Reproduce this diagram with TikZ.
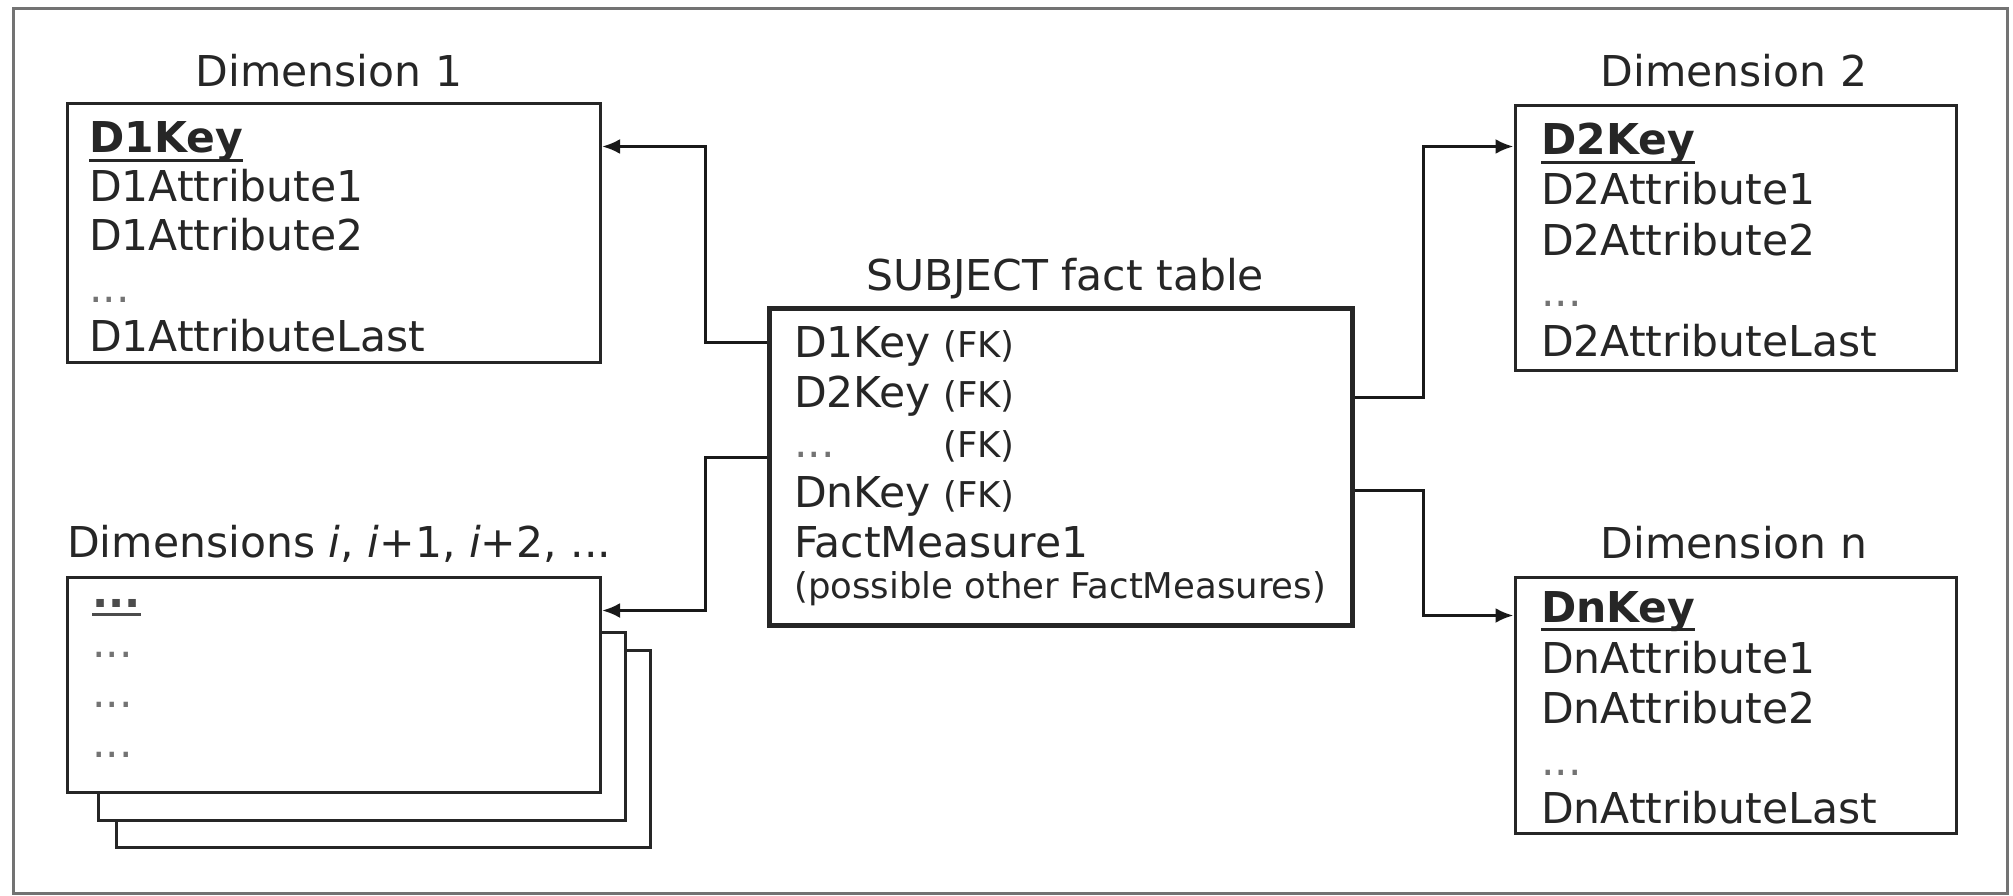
\documentclass[tikz,border=0pt]{standalone}
\usepackage{fontspec}
\setmainfont{DejaVu Sans}
\usetikzlibrary{arrows.meta}
\newcommand\keyul[1]{\setbox0\hbox{#1}\rlap{\rule[-9pt]{\wd0}{2.6pt}}\box0}
\begin{document}
\begin{tikzpicture}[x=1pt,y=-1pt,
  box/.style={draw=black!85, line width=3pt, fill=white, inner sep=0pt},
  factbox/.style={draw=black!85, line width=5pt, fill=white, inner sep=0pt},
  txt/.style={anchor=base west, inner sep=0pt, text=black!85, font=\fontsize{42.5}{50}\selectfont},
  keytxt/.style={txt, font=\fontsize{42.5}{50}\selectfont\bfseries},
  ttl/.style={anchor=base, inner sep=0pt, text=black!85, font=\fontsize{42.5}{50}\selectfont},
  small/.style={txt, font=\fontsize{35.5}{43}\selectfont},
  dots/.style={txt, text=black!55},
  conn/.style={draw=black!90, line width=3pt, -{Latex[length=18pt,width=15pt]}}]
\useasboundingbox (0,0) rectangle (2013,896);
\draw[black!55, line width=3pt] (13,9) rectangle (2007,893);

% Dimension 1
\node[ttl] (t1) at (329,87) {Dimension 1};
\node[box, minimum width=533pt, minimum height=258pt] (dim1) at (334,233) {};
\node[keytxt] (d1k) at (89,153) {\keyul{D1Key}};
\node[txt] (d1a1) at (89,202) {D1Attribute1};
\node[txt] (d1a2) at (89,251) {D1Attribute2};
\node[dots] (d1d) at (89,302) {...};
\node[txt] (d1al) at (89,351) {D1AttributeLast};

% Dimensions i
\node[txt] (ti) at (67,557) {Dimensions \textit{i}, \textit{i}+1, \textit{i}+2, ...};
\node[box, minimum width=534pt, minimum height=197pt] (dimi3) at (383,748.5) {};
\node[box, minimum width=527pt, minimum height=188pt] (dimi2) at (361.5,726) {};
\node[box, minimum width=533pt, minimum height=215pt] (dimi) at (334,684.5) {};
\node[keytxt, text=black!70] (dik) at (92,607) {\keyul{...}};
\node[dots] (did1) at (92,657) {...};
\node[dots] (did2) at (92,707) {...};
\node[dots] (did3) at (92,757) {...};

% Fact table
\node[ttl] (tf) at (1065,290) {SUBJECT fact table};
\node[factbox, minimum width=583pt, minimum height=317pt] (fact) at (1060.5,466.5) {};
\node[txt] (f1) at (794,357) {D1Key};
\node[txt] (f2) at (794,407) {D2Key};
\node[dots] (f3) at (794,457) {...};
\node[txt] (f4) at (794,507) {DnKey};
\node[txt] (f5) at (794,557) {FactMeasure1};
\node[small] (f6) at (794,598) {(possible other FactMeasures)};
\node[small] (fk1) at (943,357) {(FK)};
\node[small] (fk2) at (943,407) {(FK)};
\node[small] (fk3) at (943,457) {(FK)};
\node[small] (fk4) at (943,507) {(FK)};

% Dimension 2
\node[ttl] (t2) at (1734,87) {Dimension 2};
\node[box, minimum width=441pt, minimum height=264pt] (dim2) at (1735.5,238) {};
\node[keytxt] (d2k) at (1541,155) {\keyul{D2Key}};
\node[txt] (d2a1) at (1541,205) {D2Attribute1};
\node[txt] (d2a2) at (1541,255) {D2Attribute2};
\node[dots] (d2d) at (1541,306) {...};
\node[txt] (d2al) at (1541,356) {D2AttributeLast};

% Dimension n
\node[ttl] (tn) at (1734,558) {Dimension n};
\node[box, minimum width=441pt, minimum height=256pt] (dimn) at (1735.5,705) {};
\node[keytxt] (dnk) at (1541,622) {\keyul{DnKey}};
\node[txt] (dna1) at (1541,673) {DnAttribute1};
\node[txt] (dna2) at (1541,723) {DnAttribute2};
\node[dots] (dnd) at (1541,775) {...};
\node[txt] (dnal) at (1541,823) {DnAttributeLast};

% connectors
\draw[conn] ([yshift=-37pt]fact.north west) -- ++(-61,0) |- ([yshift=-44pt]dim1.north east);
\draw[conn] ([yshift=-152pt]fact.north west) -- ++(-61,0) |- ([yshift=-35pt]dimi.north east);
\draw[conn] ([yshift=-92pt]fact.north east) -- ++(69,0) |- ([yshift=-42pt]dim2.north west);
\draw[conn] ([yshift=-185pt]fact.north east) -- ++(69,0) |- ([yshift=-40pt]dimn.north west);
\end{tikzpicture}
\end{document}
